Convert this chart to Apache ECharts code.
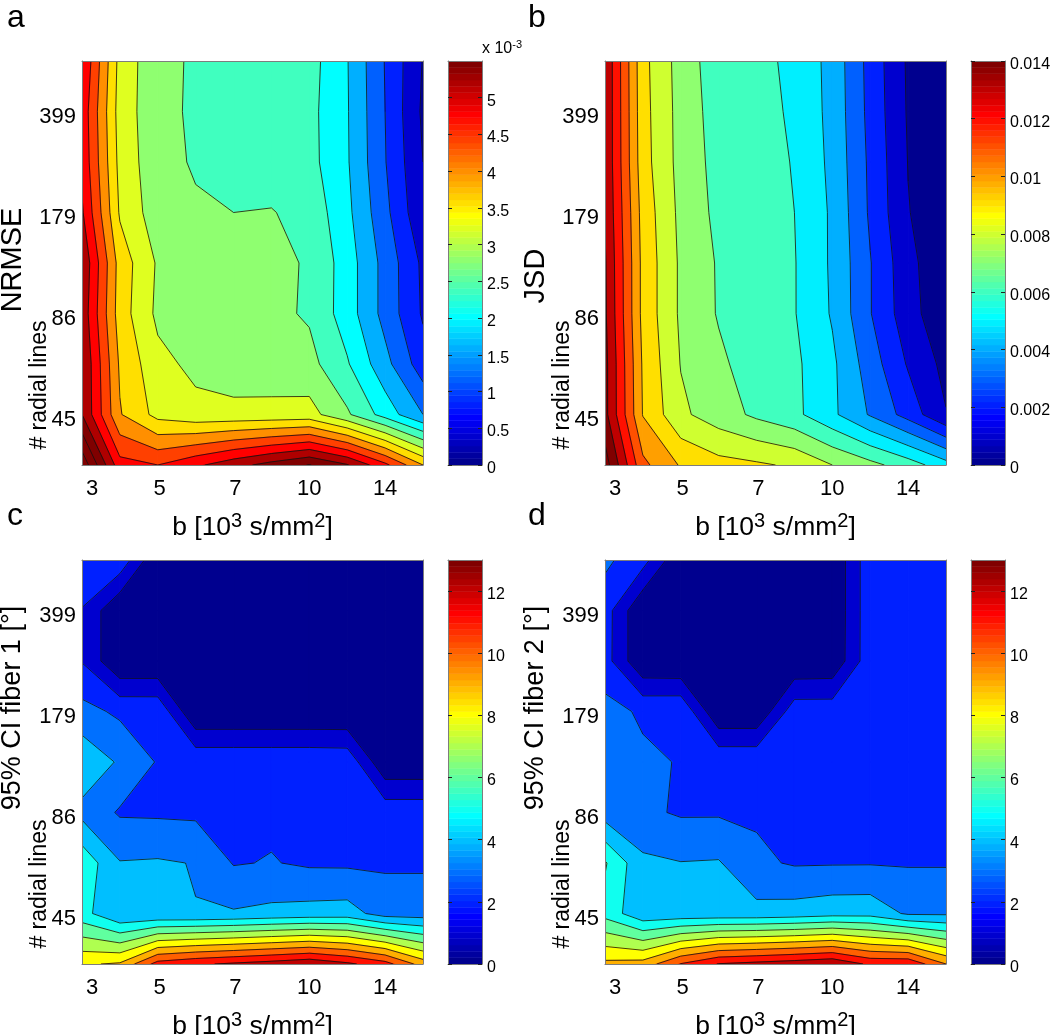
<!DOCTYPE html>
<html><head><meta charset="utf-8">
<style>html,body{margin:0;padding:0;background:#fff}#c{width:1050px;height:1035px}</style>
<script src="https://cdn.jsdelivr.net/npm/echarts@6/dist/echarts.min.js"></script>
</head><body><div id="c"></div>
<script>
// x tick labels and the b-axis column positions (column index units)
const bLabels = ['3','5','7','10','14'];
const bTickAt = [0.27,2.05,4.05,6,8];
// y tick labels at their row indexes
const lineLabels = ['45','86','179','399'];
const lineTickAt = [1,3,5,7];

// Values per grid node: rows listed top (most lines) to bottom, columns left to right
// NRMSE in units of 1e-3
const nrmse = [
 [5.21,3.46,2.91,2.75,2.67,2.6,2.56,2.02,1.18,.38],
 [5.07,3.42,2.93,2.73,2.63,2.56,2.52,2.03,1.2,.33],
 [5.11,3.47,2.93,2.76,2.66,2.6,2.53,2.04,1.22,.4],
 [5.25,3.55,2.97,2.85,2.80,2.82,2.67,2.10,1.31,.47],
 [5.55,3.83,3.15,2.98,2.92,2.88,2.77,2.2,1.46,.72],
 [5.47,3.8,3.11,2.97,2.93,2.9,2.75,2.2,1.46,.75],
 [5.6,3.94,3.32,3.1,2.97,2.96,2.93,2.44,1.73,.98],
 [5.6,4.03,3.47,3.32,3.32,3.33,3.35,2.86,2.23,1.6],
 [6.7,4.95,4.8,5.12,5.45,5.75,6.02,5.63,4.9,4.0]
];
// JSD in units of 1e-3
const jsd = [
 [13.875,9.3,7.58,6.42,6.25,5.8,4.66,2.65,.86,.15],
 [13.875,9.35,7.63,6.54,6.35,5.85,4.69,2.7,.9,.15],
 [13.875,9.4,7.65,6.65,6.35,5.95,4.75,2.8,.97,.2],
 [13.95,9.6,7.74,6.74,6.4,6.0,4.85,2.85,1.05,.2],
 [14.1,9.7,7.83,6.9,6.5,6.05,4.85,3.05,1.3,.2],
 [14.15,9.7,7.83,6.92,6.55,6.05,4.9,3.05,1.4,.25],
 [14.3,9.87,7.96,7.2,6.5,6.2,5.2,3.5,1.9,.7],
 [14.3,9.95,8.2,7.48,6.8,6.25,5.2,3.9,2.6,1.05],
 [15.5,11.25,9.9,9.35,9.15,8.85,8.0,7.3,6.5,5.4]
];
const fiber1 = [
 [2.8,2.72,.07,.05,.05,.05,.05,.05,.05,.05],
 [1.95,.05,.05,.05,.05,.05,.05,.05,.05,.05],
 [1.95,.05,.05,.05,.05,.05,.05,.05,.05,.05],
 [3.34,2.81,2.8,.02,.02,.02,.02,.02,.05,.05],
 [4.75,3.87,2.92,2.8,2.8,2.8,2.8,2.75,.13,.13],
 [3.7,2.89,2.85,2.81,2.82,2.82,2.8,2.78,2.65,2.65],
 [5.7,4.05,4.11,3.96,2.94,3.05,2.86,2.84,2.86,2.87],
 [5.37,4.04,4.05,4.02,4.1,4.26,4.37,4.43,3.54,3.5],
 [8.88,9.12,11.4,11.85,12.15,12.45,12.8,12.2,11.4,9.55]
];
const fiber2 = [
 [3.2,2.4,.1,.05,.05,.05,.11,2.68,2.8,2.8],
 [2.47,.04,.05,.05,.05,.05,.11,2.68,2.8,2.8],
 [2.44,.06,0,.05,.05,.1,.16,2.68,2.8,2.8],
 [3.31,2.87,2.9,.07,.07,2.6,2.6,2.8,2.8,2.8],
 [3.5,3.16,2.95,2.84,2.84,2.8,2.8,2.8,2.8,2.8],
 [3.53,3.19,2.89,2.89,2.89,2.85,2.85,2.85,2.85,2.85],
 [6.1,4.21,4.03,4.08,3.17,2.91,2.93,2.94,2.92,2.92],
 [5.64,4.25,4.31,4.32,4.32,4.43,4.62,4.64,3.85,3.85],
 [9.26,9.4,11.05,12.05,12.3,12.55,12.85,11.8,11.8,10.0]
];
// colour bar ticks
const cbTicksA = [0,.5,1,1.5,2,2.5,3,3.5,4,4.5,5];
const cbLabelsA = ['0','0.5','1','1.5','2','2.5','3','3.5','4','4.5','5'];
const cbTicksB = [0,2,4,6,8,10,12,14];
const cbLabelsB = ['0','0.002','0.004','0.006','0.008','0.01','0.012','0.014'];
const cbTicksC = [0,2,4,6,8,10,12];
const cbLabelsC = ['0','2','4','6','8','10','12'];

const FONT = 'Liberation Sans, Arial, Helvetica, sans-serif';
const FRAME = '#7d7d7d';

const panels = [
 {letter:'a',name:'NRMSE',vals:nrmse,step:.4,clim:5.5,left:82,top:61,cbLeft:448,ticks:cbTicksA,labels:cbLabelsA,nameY:260},
 {letter:'b',name:'JSD',vals:jsd,step:1,clim:14,left:605,top:61,cbLeft:971,ticks:cbTicksB,labels:cbLabelsB,nameY:276},
 {letter:'c',name:'95% CI fiber 1 [°]',vals:fiber1,step:1,clim:13,left:82,top:560,cbLeft:448,ticks:cbTicksC,labels:cbLabelsC,nameY:708},
 {letter:'d',name:'95% CI fiber 2 [°]',vals:fiber2,step:1,clim:13,left:605,top:560,cbLeft:971,ticks:cbTicksC,labels:cbLabelsC,nameY:708}
];

function jet(i){ // MATLAB jet(64), i = 1..64
  const b = i<=8 ? .5+i/16 : i<=24 ? 1 : i<=40 ? 1-(i-24)/16 : 0;
  const g = i<=8 ? 0 : i<=24 ? (i-8)/16 : i<=40 ? 1 : i<=56 ? 1-(i-40)/16 : 0;
  const r = i<=24 ? 0 : i<=40 ? (i-24)/16 : i<=56 ? 1 : 1-(i-56)/16;
  return 'rgb('+[r,g,b].map(v=>Math.round(v*255)).join(',')+')';
}
function bandColor(v,clim){ return jet(Math.max(1,Math.min(64,Math.floor(v/clim*64)+1))); }

function clip(poly,level,keepAbove){
  const out=[];
  for(let i=0;i<poly.length;i++){
    const a=poly[i], b=poly[(i+1)%poly.length];
    const ia = keepAbove ? a[2]>=level : a[2]<=level;
    const ib = keepAbove ? b[2]>=level : b[2]<=level;
    if(ia) out.push(a);
    if(ia!==ib){
      const t=(level-a[2])/(b[2]-a[2]);
      out.push([a[0]+t*(b[0]-a[0]),a[1]+t*(b[1]-a[1]),level]);
    }
  }
  return out;
}
function cellCorners(vals,c,r){
  const row=k=>vals[8-k];
  return [[c,r,row(r)[c]],[c+1,r,row(r)[c+1]],[c+1,r+1,row(r+1)[c+1]],[c,r+1,row(r+1)[c]]];
}
function maxOf(vals){ return Math.max.apply(null,vals.map(a=>Math.max.apply(null,a))); }

const cells=[]; for(let r=0;r<8;r++) for(let c=0;c<9;c++) cells.push([c,r]);
const cbCells=[]; for(let i=0;i<64;i++) cbCells.push([i]);

const grid=[],xAxis=[],yAxis=[],series=[],graphic=[];
function frameAxes(gi,xmin,xmax,ymin,ymax,xb,yl,yr){
  xAxis.push(Object.assign({gridIndex:gi,type:'value',min:xmin,max:xmax,position:'bottom',z:10,
    axisLine:{onZero:false,lineStyle:{color:FRAME,width:1}},axisTick:{show:false},axisLabel:{show:false},splitLine:{show:false}},xb||{}));
  xAxis.push({gridIndex:gi,type:'value',min:xmin,max:xmax,position:'top',z:10,
    axisLine:{onZero:false,lineStyle:{color:FRAME,width:1}},axisTick:{show:false},axisLabel:{show:false},splitLine:{show:false}});
  yAxis.push(Object.assign({gridIndex:gi,type:'value',min:ymin,max:ymax,position:'left',z:10,
    axisLine:{onZero:false,lineStyle:{color:FRAME,width:1}},axisTick:{show:false},axisLabel:{show:false},splitLine:{show:false}},yl||{}));
  yAxis.push(Object.assign({gridIndex:gi,type:'value',min:ymin,max:ymax,position:'right',z:10,
    axisLine:{onZero:false,lineStyle:{color:FRAME,width:1}},axisTick:{show:false},axisLabel:{show:false},splitLine:{show:false}},yr||{}));
}
panels.forEach((p,idx)=>{
  const gi=grid.length;
  grid.push({left:p.left,top:p.top,width:341,height:404,outerBoundsMode:'none'});
  frameAxes(gi,0,9,0,8,{
    name:'b [10{s|3} s/mm{s|2}]',nameLocation:'middle',nameGap:46,
    nameTextStyle:{fontFamily:FONT,fontSize:26.5,color:'#000',rich:{s:{fontFamily:FONT,fontSize:20,color:'#000',verticalAlign:'bottom',padding:[0,0,13,0]}}},
    axisLabel:{show:true,customValues:bTickAt,margin:13,fontFamily:FONT,fontSize:22,color:'#000',
      formatter:v=>bLabels[bTickAt.indexOf(v)]}
  },{
    axisLabel:{show:true,customValues:lineTickAt,margin:6,fontFamily:FONT,fontSize:22,color:'#000',verticalAlign:'top',lineHeight:10,
      formatter:v=>lineLabels[lineTickAt.indexOf(v)]}
  });
  const P=p;
  const maxBand=Math.ceil(maxOf(P.vals)/P.step)+1;
  series.push({type:'custom',coordinateSystem:'cartesian2d',xAxisIndex:xAxis.length-2,yAxisIndex:yAxis.length-2,data:cells,clip:true,silent:true,z:2,
    renderItem:(params,api)=>{
      const corners=cellCorners(P.vals,api.value(0),api.value(1));
      const children=[];
      for(let k=0;k<=maxBand;k++){
        let poly=clip(corners,k*P.step,true);
        if(poly.length>=3) poly=clip(poly,(k+1)*P.step,false);
        if(poly.length<3) continue;
        const col=bandColor(k*P.step,P.clim);
        children.push({type:'polygon',shape:{points:poly.map(q=>api.coord([q[0],q[1]]))},style:{fill:col,stroke:col,lineWidth:1.1}});
      }
      return {type:'group',children};
    }});
  series.push({type:'custom',coordinateSystem:'cartesian2d',xAxisIndex:xAxis.length-2,yAxisIndex:yAxis.length-2,data:cells,clip:true,silent:true,z:3,
    renderItem:(params,api)=>{
      const corners=cellCorners(P.vals,api.value(0),api.value(1));
      const children=[];
      for(let k=1;k<=maxBand;k++){
        const L=k*P.step, pts=[];
        for(let i=0;i<4;i++){
          const a=corners[i],b=corners[(i+1)%4];
          if((a[2]>=L)!==(b[2]>=L)){
            const t=(L-a[2])/(b[2]-a[2]);
            pts.push([a[0]+t*(b[0]-a[0]),a[1]+t*(b[1]-a[1])]);
          }
        }
        for(let j=0;j+1<pts.length;j+=2){
          children.push({type:'polyline',shape:{points:[api.coord(pts[j]),api.coord(pts[j+1])]},style:{fill:null,stroke:'#111',lineWidth:1,opacity:.8}});
        }
      }
      return {type:'group',children};
    }});
  // colour bar
  const gc=grid.length;
  grid.push({left:p.cbLeft,top:p.top,width:34,height:404,outerBoundsMode:'none'});
  const tickStyle={show:true,inside:true,length:4,customValues:P.ticks,lineStyle:{color:'#222',width:1}};
  frameAxes(gc,0,1,0,P.clim,null,{axisTick:tickStyle},{
    axisTick:tickStyle,
    axisLabel:{show:true,customValues:P.ticks,margin:5,fontFamily:FONT,fontSize:16,color:'#000',verticalAlign:'top',lineHeight:7,
      formatter:v=>P.labels[P.ticks.indexOf(v)]}
  });
  series.push({type:'custom',coordinateSystem:'cartesian2d',xAxisIndex:xAxis.length-2,yAxisIndex:yAxis.length-2,data:cbCells,clip:true,silent:true,z:2,
    renderItem:(params,api)=>{
      const i=api.value(0);
      const a=api.coord([0,i*P.clim/64]), b=api.coord([1,(i+1)*P.clim/64]);
      const col=jet(i+1);
      return {type:'rect',shape:{x:a[0],y:b[1],width:b[0]-a[0],height:a[1]-b[1]},style:{fill:col,stroke:col,lineWidth:.5}};
    }});
  // texts
  const ox=p.left-82, oy=p.top-61;
  graphic.push({type:'text',x:ox+(idx%2?5:7),y:oy?oy+1:2,z:20,style:{text:p.letter,font:'32px '+FONT,fill:'#000'}});
  graphic.push({type:'text',x:ox+13,y:p.nameY,rotation:Math.PI/2,z:20,style:{text:p.name,font:(oy?'27px ':'29px ')+FONT,fill:'#000',align:'center',verticalAlign:'middle'}});
  graphic.push({type:'text',x:ox+40,y:oy+385,rotation:Math.PI/2,z:20,style:{text:'# radial lines',font:'23px '+FONT,fill:'#000',align:'center',verticalAlign:'middle'}});
});
graphic.push({type:'text',x:482,y:39,z:20,style:{text:'x 10{s|-3}',font:'16px '+FONT,fill:'#000',
  rich:{s:{fontFamily:FONT,fontSize:11,fill:'#000',verticalAlign:'bottom',padding:[0,0,8,0]}}}});

const chart=echarts.init(document.getElementById('c'),null,{renderer:'canvas'});
chart.setOption({animation:false,backgroundColor:'#fff',grid,xAxis,yAxis,series,graphic});
</script></body></html>
